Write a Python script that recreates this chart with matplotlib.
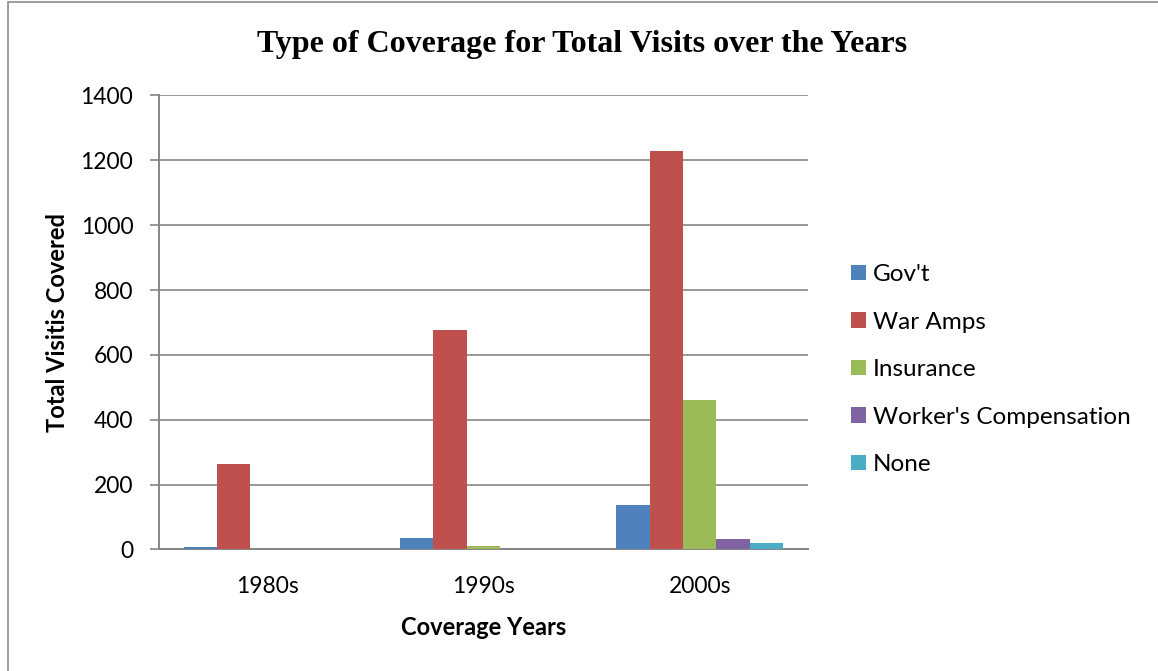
import numpy as np
import matplotlib.pyplot as plt
from matplotlib.patches import Rectangle

decades = ['1980s', '1990s', '2000s']
coverage_types = ["Gov't", 'War Amps', 'Insurance', "Worker's Compensation", 'None']
govt = [8, 34, 137]
war_amps = [265, 677, 1230]
insurance = [0, 12, 460]
workers_comp = [0, 0, 33]
no_coverage = [0, 0, 21]
colors = ['#4F81BD', '#C0504D', '#9BBB59', '#8064A2', '#4BACC6']

series = [govt, war_amps, insurance, workers_comp, no_coverage]

plt.rcParams['font.family'] = ['Lato', 'DejaVu Sans']

fig = plt.figure(figsize=(11.58, 6.71), dpi=100)
ax = fig.add_axes([0.1373, 0.1811, 0.5604, 0.6766])

# outer chart frame
fig.patches.append(Rectangle((0.007, -0.05), 1.1, 1.047, transform=fig.transFigure,
                             fill=False, edgecolor='#8c8c8c', linewidth=1.2))

x = np.arange(len(decades))
width = 0.154
for i, (vals, label) in enumerate(zip(series, coverage_types)):
    offset = (i - 2) * width
    ax.bar(x + offset, vals, width, color=colors[i], label=label, zorder=3)

ax.set_xlim(-0.5, 2.5)
ax.set_ylim(0, 1400)
ax.set_yticks(range(0, 1401, 200))
ax.set_xticks(x)
ax.set_xticklabels(decades)
ax.tick_params(axis='x', length=0, pad=19, labelsize=16.5)
ax.tick_params(axis='y', length=6.5, width=1.2, color='#868686', labelsize=16.5, pad=12)

ax.grid(axis='y', color='#868686', linewidth=1.2, zorder=0)
for side in ['top', 'right']:
    ax.spines[side].set_visible(False)
for side in ['left', 'bottom']:
    ax.spines[side].set_color('#868686')
    ax.spines[side].set_linewidth(1.4)

ax.set_xlabel('Coverage Years', fontsize=17, fontweight='bold', labelpad=14)
ax.set_ylabel('Total Visitis Covered', fontsize=17, fontweight='bold', labelpad=8)

fig.text(0.503, 0.933, 'Type of Coverage for Total Visits over the Years',
         ha='center', va='center', fontsize=23, fontweight='bold',
         family='Liberation Serif')

fig.legend(loc='center left', bbox_to_anchor=(0.7349, 0.4493),
           bbox_transform=fig.transFigure, frameon=False, borderpad=0,
           borderaxespad=0, fontsize=17.5, labelspacing=1.09,
           handlelength=0.62, handleheight=0.62, handletextpad=0.29)

fig.savefig('out.png', dpi=100)
